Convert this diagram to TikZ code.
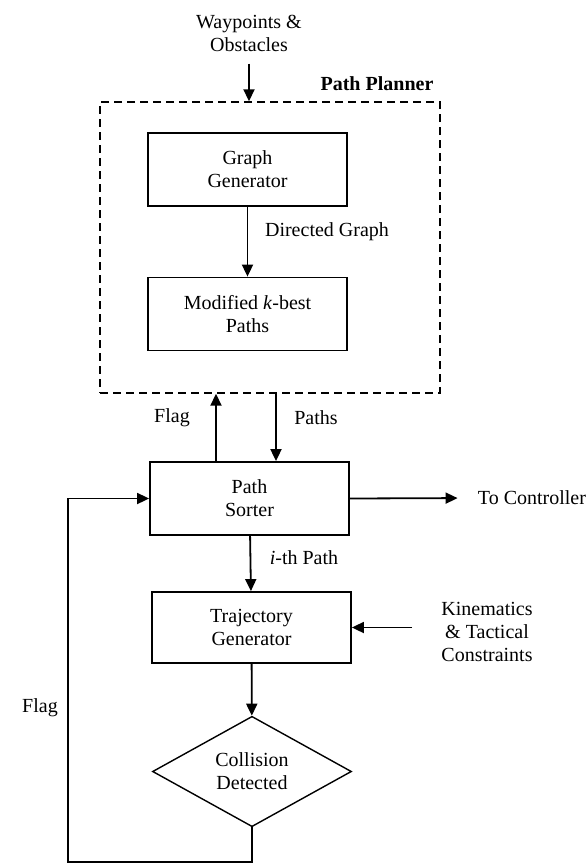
\documentclass[tikz,border=0pt]{standalone}
\usepackage{fontspec}
\setmainfont{Liberation Serif}
\usetikzlibrary{arrows.meta, shapes.geometric, calc}

\tikzset{
  blk/.style={draw, line width=0.9pt, minimum width=99.5pt, minimum height=36.5pt, align=center, inner sep=0pt},
  dec/.style={draw, diamond, line width=0.7pt, minimum width=99.5pt, minimum height=53.5pt, align=center, inner sep=0pt},
  lbl/.style={align=center, inner sep=0pt},
  arr/.style={line width=0.9pt, -{Triangle[length=6pt, width=5.5pt]}}
}

\begin{document}
\begin{tikzpicture}[x=0.5pt, y=-0.5pt, font=\fontsize{10}{11.5}\selectfont]
\useasboundingbox (0,0) rectangle (587,863);

%Path planner
\node[draw, dashed, dash pattern=on 4pt off 2.5pt, line width=0.7pt, minimum width=170pt, minimum height=145.5pt, inner sep=0pt] (planner) at (270,247.5) {};
\node[lbl, font=\fontsize{10}{11.5}\selectfont\bfseries] (title) at (377,84) {Path Planner};
\node[lbl] (wp) at (249,33) {Waypoints \&\\Obstacles};
\node[blk] (gg) at (247.5,169.5) {Graph\\Generator};
\node[blk] (kb) at (247.5,314) {Modified \textit{k}-best\\Paths};

%Sorter and trajectory
\node[blk] (ps) at (249.5,498.5) {Path\\Sorter};
\node[blk, minimum height=35.5pt] (tg) at (251.5,627.5) {Trajectory\\Generator};
\node[dec] (cd) at (252,771.5) {Collision\\Detected};

\node[lbl] (tc) at (532,498) {To Controller};
\node[lbl] (kin) at (487,632) {Kinematics\\\& Tactical\\Constraints};

%Labels
\node[lbl] (dg) at (327,232) {Directed Graph};
\node[lbl] (flagtop) at (172,418) {Flag};
\node[lbl] (paths) at (316,418) {Paths};
\node[lbl] (ith) at (304,558) {\textit{i}-th Path};
\node[lbl] (flagbot) at (40,708) {Flag};

\coordinate (flagup) at ($(ps.north)+(-33.5,0)$);
\coordinate (pathsdn) at ($(planner.south)+(6,0)$);
\coordinate (kinin) at (412,627.5);
\coordinate (back) at (68,862);

%Connectors
\draw[arr] ($(wp.south)+(0,12)$) -- (wp.south |- planner.north);
\draw[arr] (gg) -- (kb);
\draw[arr] (flagup) -- (flagup |- planner.south);
\draw[arr] (pathsdn) -- (pathsdn |- ps.north);
\draw[arr, shorten >=10pt] (ps.east) -- (tc.west);
\draw[arr] (ps) -- (tg);
\draw[arr] (kinin) -- (tg.east);
\draw[arr] (tg) -- (cd);
\draw[arr] (cd.south) |- (back) |- (ps.west);
\end{tikzpicture}
\end{document}
